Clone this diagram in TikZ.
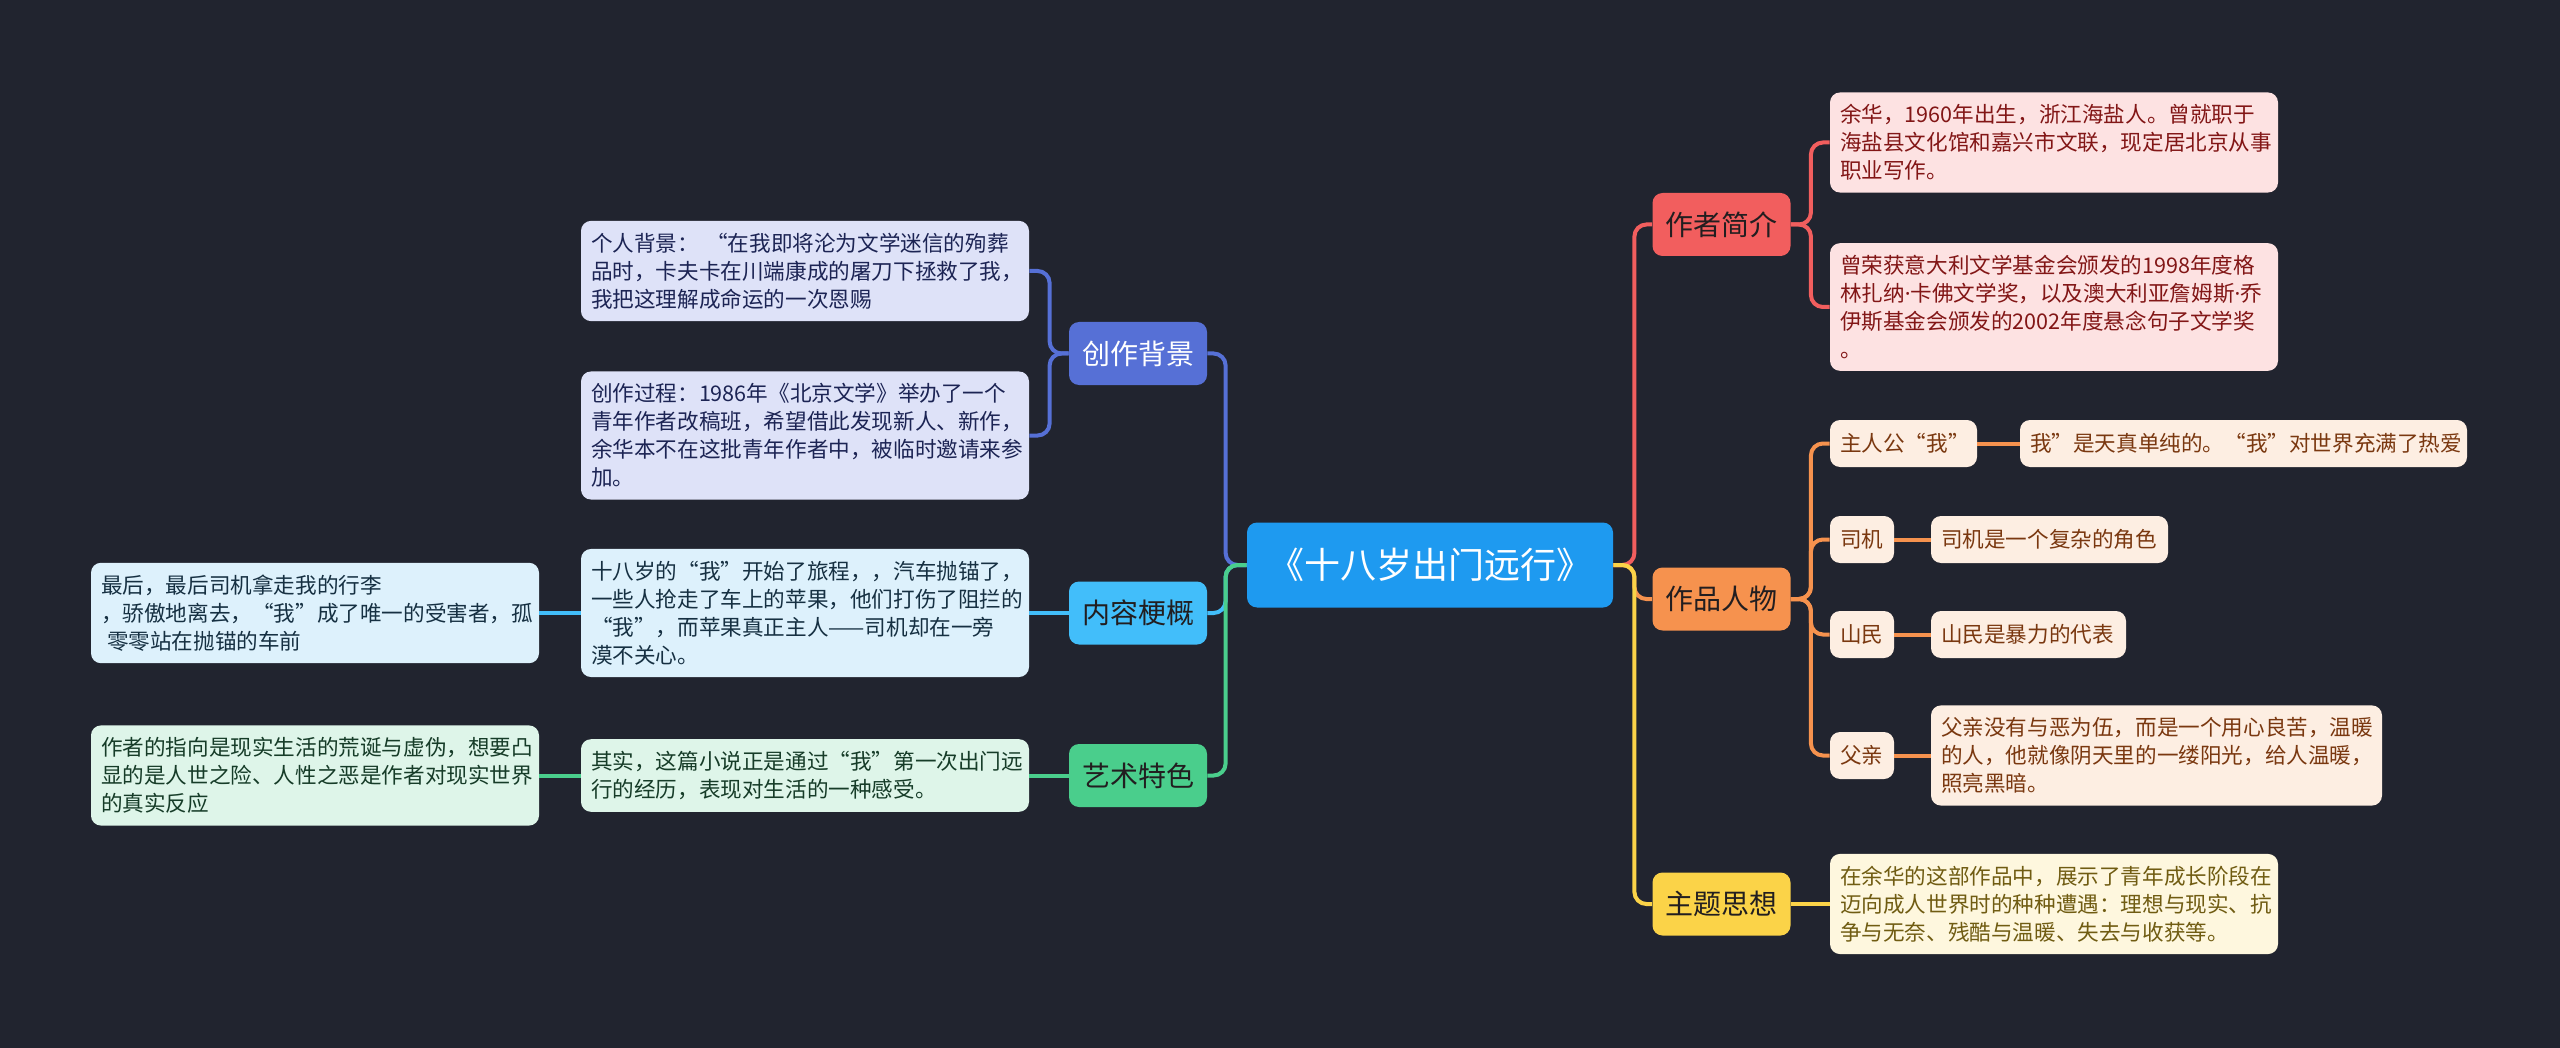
\documentclass[tikz,border=0pt]{standalone}
\usepackage{fontspec}
\setmainfont{Noto Sans CJK SC}
\newfontfamily\latinfont{Noto Sans}
\usepackage{tikz}
\definecolor{navybg}{RGB}{33,36,47}
\definecolor{rootblue}{RGB}{30,154,240}
\definecolor{iris}{RGB}{86,112,214}
\definecolor{skyblue}{RGB}{66,190,250}
\definecolor{mint}{RGB}{74,206,140}
\definecolor{coral}{RGB}{242,94,94}
\definecolor{apricot}{RGB}{246,146,78}
\definecolor{butter}{RGB}{251,211,72}
\definecolor{irisleaf}{RGB}{222,226,248}
\definecolor{iristxt}{RGB}{28,36,84}
\definecolor{skyleaf}{RGB}{221,241,252}
\definecolor{skytxt}{RGB}{22,48,66}
\definecolor{mintleaf}{RGB}{222,245,233}
\definecolor{minttxt}{RGB}{22,60,40}
\definecolor{coralleaf}{RGB}{253,226,226}
\definecolor{coraltxt}{RGB}{130,22,22}
\definecolor{apricotleaf}{RGB}{253,238,226}
\definecolor{apricottxt}{RGB}{122,56,16}
\definecolor{butterleaf}{RGB}{254,247,222}
\definecolor{buttertxt}{RGB}{112,92,18}
\definecolor{topicink}{RGB}{34,30,32}
\newcommand{\middot}{{\latinfont ·}}

\begin{document}
\begin{tikzpicture}[x=0.5pt,y=-0.5pt,
  every node/.style={font=\fontsize{10.8}{14}\selectfont},
  root/.style={fill=rootblue,text=white,rounded corners=5pt,
               minimum width=183pt,minimum height=42.5pt,
               font=\fontsize{18}{20}\selectfont},
  topic/.style={fill=#1,text=topicink,rounded corners=5pt,
                minimum width=69pt,minimum height=31.5pt,
                font=\fontsize{14}{16}\selectfont},
  leaf/.style 2 args={fill=#1,text=#2,rounded corners=5pt,align=left,
                      inner xsep=5pt,inner ysep=6pt,minimum height=23.5pt},
  link/.style={draw=#1,line width=2pt,rounded corners=6pt}]
\fill[navybg] (0,0) rectangle (2560,1048);
\useasboundingbox (0,0) rectangle (2560,1048);
\node[root] (root) at (1430,565) {《十八岁出门远行》};
\node[topic=iris,text=white] (cbj) at (1138,353.5) {创作背景};
\node[topic=skyblue] (nrgg) at (1138,613) {内容梗概};
\node[topic=mint] (ystd) at (1138,775.5) {艺术特色};
\node[topic=coral] (zzjj) at (1721.5,224.5) {作者简介};
\node[topic=apricot] (zprw) at (1721.5,599) {作品人物};
\node[topic=butter] (ztsx) at (1721.5,904) {主题思想};
\node[leaf={irisleaf}{iristxt},text width=214pt] (bgPerson) at (805,271)
  {个人背景： “在我即将沦为文学迷信的殉葬\\品时，卡夫卡在川端康成的屠刀下拯救了我，\\我把这理解成命运的一次恩赐};
\node[leaf={irisleaf}{iristxt},text width=214pt] (bgProcess) at (805,435.5)
  {创作过程：1986年《北京文学》举办了一个\\青年作者改稿班，希望借此发现新人、新作，\\余华本不在这批青年作者中，被临时邀请来参\\加。};
\node[leaf={skyleaf}{skytxt},text width=214pt] (plotStart) at (805,613)
  {十八岁的“我”开始了旅程，，汽车抛锚了，\\一些人抢走了车上的苹果，他们打伤了阻拦的\\“我”，而苹果真正主人——司机却在一旁\\漠不关心。};
\node[leaf={skyleaf}{skytxt},text width=214pt] (plotEnd) at (315,613)
  {最后，最后司机拿走我的行李\\，骄傲地离去，“我”成了唯一的受害者，孤\\\hspace{3pt}零零站在抛锚的车前};
\node[leaf={mintleaf}{minttxt},text width=214pt] (artWay) at (805,775.5)
  {其实，这篇小说正是通过“我”第一次出门远\\行的经历，表现对生活的一种感受。};
\node[leaf={mintleaf}{minttxt},text width=214pt] (artAim) at (315,775.5)
  {作者的指向是现实生活的荒诞与虚伪，想要凸\\显的是人世之险、人性之恶是作者对现实世界\\的真实反应};
\node[leaf={coralleaf}{coraltxt},text width=214pt] (authLife) at (2054,142.5)
  {余华，1960年出生，浙江海盐人。曾就职于\\海盐县文化馆和嘉兴市文联，现定居北京从事\\职业写作。};
\node[leaf={coralleaf}{coraltxt},text width=214pt] (authPrize) at (2054,307)
  {曾荣获意大利文学基金会颁发的1998年度格\\林扎纳\middot 卡佛文学奖，以及澳大利亚詹姆斯\middot 乔\\伊斯基金会颁发的2002年度悬念句子文学奖\\。};
\node[leaf={apricotleaf}{apricottxt},text width=63.5pt] (hero) at (1903.5,443.5) {主人公“我”};
\node[leaf={apricotleaf}{apricottxt},text width=213.5pt] (heroNote) at (2243.5,443.5)
  {我”是天真单纯的。“我”对世界充满了热爱};
\node[leaf={apricotleaf}{apricottxt},text width=22pt] (driver) at (1862,539.5) {司机};
\node[leaf={apricotleaf}{apricottxt},text width=108.5pt] (driverNote) at (2049.5,539.5)
  {司机是一个复杂的角色};
\node[leaf={apricotleaf}{apricottxt},text width=22pt] (hillman) at (1862,634.5) {山民};
\node[leaf={apricotleaf}{apricottxt},text width=87.5pt] (hillmanNote) at (2028.5,634.5)
  {山民是暴力的代表};
\node[leaf={apricotleaf}{apricottxt},text width=22pt] (father) at (1862,755.5) {父亲};
\node[leaf={apricotleaf}{apricottxt},text width=215.5pt] (fatherNote) at (2156.5,755.5)
  {父亲没有与恶为伍，而是一个用心良苦，温暖\\的人，他就像阴天里的一缕阳光，给人温暖，\\照亮黑暗。};
\node[leaf={butterleaf}{buttertxt},text width=214pt] (themeNote) at (2054,904)
  {在余华的这部作品中，展示了青年成长阶段在\\迈向成人世界时的种种遭遇：理想与现实、抗\\争与无奈、残酷与温暖、失去与收获等。};
\draw[link=iris] (root.west) -- ++(-21,0) |- (cbj.east);
\draw[link=skyblue] (root.west) -- ++(-21,0) |- (nrgg.east);
\draw[link=mint] (root.west) -- ++(-21,0) |- (ystd.east);
\draw[link=iris] (cbj.west) -- ++(-19,0) |- (bgPerson.east);
\draw[link=iris] (cbj.west) -- ++(-19,0) |- (bgProcess.east);
\draw[link=skyblue] (nrgg.west) -- (plotStart.east);
\draw[link=skyblue] (plotStart.west) -- (plotEnd.east);
\draw[link=mint] (ystd.west) -- (artWay.east);
\draw[link=mint] (artWay.west) -- (artAim.east);
\draw[link=coral] (root.east) -- ++(21,0) |- (zzjj.west);
\draw[link=apricot] (root.east) -- ++(21,0) |- (zprw.west);
\draw[link=butter] (root.east) -- ++(21,0) |- (ztsx.west);
\draw[link=coral] (zzjj.east) -- ++(20,0) |- (authLife.west);
\draw[link=coral] (zzjj.east) -- ++(20,0) |- (authPrize.west);
\draw[link=apricot] (zprw.east) -- ++(20,0) |- (hero.west);
\draw[link=apricot] (zprw.east) -- ++(20,0) |- (driver.west);
\draw[link=apricot] (zprw.east) -- ++(20,0) |- (hillman.west);
\draw[link=apricot] (zprw.east) -- ++(20,0) |- (father.west);
\draw[link=apricot] (hero.east) -- (heroNote.west);
\draw[link=apricot] (driver.east) -- (driverNote.west);
\draw[link=apricot] (hillman.east) -- (hillmanNote.west);
\draw[link=apricot] (father.east) -- (fatherNote.west);
\draw[link=butter] (ztsx.east) -- (themeNote.west);
\end{tikzpicture}
\end{document}
